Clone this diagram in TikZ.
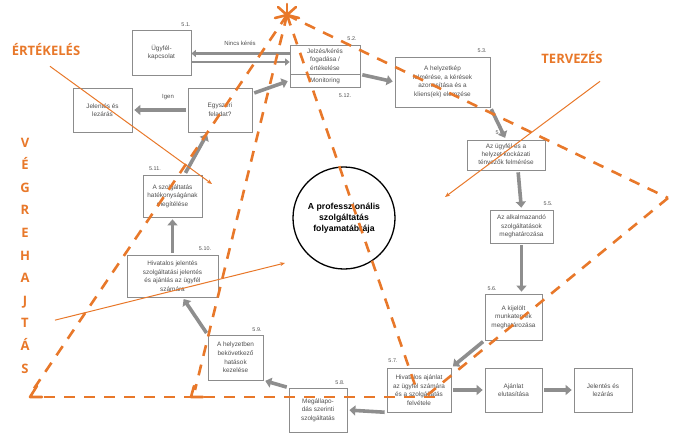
\documentclass[tikz,border=0pt]{standalone}
\usepackage{fontspec}
\setmainfont{Liberation Sans}
\newfontfamily\labfont{Open Sans}
\usetikzlibrary{arrows.meta,calc}
\definecolor{org}{HTML}{E8782A}
\definecolor{boxg}{HTML}{8C8C8C}
\definecolor{txtg}{HTML}{505050}
\definecolor{arrg}{HTML}{8E8E8E}
\begin{document}
\begin{tikzpicture}[x=1pt,y=-1pt,
 box/.style={draw=boxg,line width=0.7pt,fill=white,text=txtg,align=center,inner sep=1pt,font=\fontsize{6.4}{8.6}\selectfont},
 num/.style={font=\fontsize{5.4}{6}\selectfont,text=txtg,inner sep=0pt},
 garrow/.style={draw=arrg,line width=3.6pt,-{Triangle[length=6pt,width=10pt]},shorten <=2pt,shorten >=2pt},
 dline/.style={draw=arrg,line width=2.4pt,-{Triangle[length=4.5pt,width=7pt]}},
 odash/.style={draw=org,line width=2.6pt,dash pattern=on 11pt off 9pt},
 ocorner/.style={draw=org,line width=2.6pt,line cap=round,line join=round},
 opoint/.style={draw=org,line width=1pt,-{Stealth[length=5pt,width=4pt]}},
 olab/.style={text=org,font=\labfont\bfseries\fontsize{13}{13}\selectfont,inner sep=0pt}
]
\useasboundingbox (0,0) rectangle (686,434);

% boxes
\node[box,minimum width=59pt,minimum height=45pt] (b51) at (161.5,52.5) {Ügyfél-\\kapcsolat};
\node[box,minimum width=70pt,minimum height=29pt] (b52t) at (325,59.5) {Jelzés/kérés\\fogadása /\\értékelése};
\node[box,minimum width=70pt,minimum height=13pt] (b52b) at (325,80.5) {Monitoring};
\node[box,minimum width=95pt,minimum height=50pt] (b53) at (442.5,82) {A helyzetkép\\felmérése, a kérések\\azonosítása és a\\kliens(ek) elemzése};
\node[box,minimum width=78pt,minimum height=30pt,font=\fontsize{6.4}{8}\selectfont] (b54) at (506,155) {Az ügyfél és a\\helyzet kockázati\\tényezők felmérése};
\node[box,minimum width=63pt,minimum height=33pt] (b55) at (521.5,226.5) {Az alkalmazandó\\szolgáltatások\\meghatározása};
\node[box,minimum width=57pt,minimum height=46pt] (b56) at (513.5,317) {A kijelölt\\munkatervek\\meghatározása};
\node[box,minimum width=64pt,minimum height=44pt] (b57) at (419,390) {Hivatalos ajánlat\\az ügyfél számára\\és a szolgáltatás\\felvétele};
\node[box,minimum width=57pt,minimum height=44pt] (bajan) at (513.5,390) {Ajánlat\\elutasítása};
\node[box,minimum width=58pt,minimum height=44pt] (bjel2) at (603,390) {Jelentés és\\lezárás};
\node[box,minimum width=58pt,minimum height=44pt] (b58) at (318,410) {Megállapo-\\dás szerinti\\szolgáltatás};
\node[box,minimum width=55pt,minimum height=45pt] (b59) at (235.5,357.5) {A helyzetben\\bekövetkező\\hatások\\kezelése};
\node[box,minimum width=91pt,minimum height=42pt] (b510) at (172.5,276) {Hivatalos jelentés\\szolgáltatási jelentés\\és ajánlás az ügyfél\\számára};
\node[box,minimum width=59pt,minimum height=42pt] (b511) at (172.5,196) {A szolgáltatás\\hatékonyságának\\megítélése};
\node[box,minimum width=64pt,minimum height=44pt] (begy) at (220,110) {Egyszeri\\feladat?};
\node[box,minimum width=59pt,minimum height=44pt] (bjel1) at (102.5,110) {Jelentés és\\lezárás};

\node[circle,draw=black,line width=1.3pt,minimum size=102pt,align=center,inner sep=0pt,font=\bfseries\fontsize{8.7}{11}\selectfont] (c) at (344,218) {A professzionális\\szolgáltatás\\folyamatábrája};

% numbers
\node[num] (n51) at (186,25) {5.1.};
\node[num] (n52) at (352,39) {5.2.};
\node[num] (n512) at (345,96) {5.12.};
\node[num] (n53) at (482,51) {5.3.};
\node[num] (n54) at (500,133) {5.4.};
\node[num] (n55) at (548,204) {5.5.};
\node[num] (n56) at (492,289) {5.6.};
\node[num] (n57) at (393,361) {5.7.};
\node[num] (n58) at (340,383) {5.8.};
\node[num] (n59) at (257,330) {5.9.};
\node[num] (n510) at (205,249) {5.10.};
\node[num] (n511) at (155,169) {5.11.};

% grey arrows
\draw[dline] ([yshift=6pt]b52t.west) -- ([yshift=6pt]b52t.west -| b51.east);
\draw[dline] ([yshift=-2.5pt]b52t.west -| b51.east) -- ([yshift=-2.5pt]b52t.west);
\node[num,font=\fontsize{6}{7}\selectfont] (lnincs) at (240,43) {Nincs kérés};
\draw[garrow] (b52t.south east) -- (b53.west);
\draw[garrow] (b53.south east) -- (b54.north);
\draw[garrow] ([xshift=12pt]b54.south) -- (b55.north);
\draw[garrow] (b55.south) -- ([xshift=8pt]b56.north);
\draw[garrow] (b56.south west) -- (b57.north east);
\draw[garrow] (b57.east) -- (bajan.west);
\draw[garrow] (bajan.east) -- (bjel2.west);
\draw[garrow] (b57.south west) -- (b58.east);
\draw[garrow] (b58.north west) -- (b59.south east);
\draw[garrow] (b59.north west) -- ([xshift=10pt]b510.south);
\draw[garrow] (b510.north) -- (b511.south);
\draw[garrow] ([xshift=12pt]b511.north) -- ([xshift=-12pt]begy.south);
\draw[garrow] (begy.west) -- (bjel1.east);
\node[num,font=\fontsize{6}{7}\selectfont] (ligen) at (168,97) {Igen};
\draw[garrow] ([yshift=-6pt]begy.north east) -- (b52b.west);

% orange dashed figure
\coordinate (apex) at (287,15);
\coordinate (bl) at (33,390);
\coordinate (bm) at (195,390);
\coordinate (mid) at (415,385);
\coordinate (rv) at (668,198);
\coordinate (lr) at (425,397);
\coordinate (bs) at (44,397);
\coordinate (be) at (440,397);
\draw[odash] (apex) -- (bl);
\draw[odash] (apex) -- (bm);
\draw[odash] (apex) -- (mid);
\draw[odash] (apex) -- (rv);
\draw[odash] (rv) -- (lr);
\draw[odash] (bs) -- (be);
\draw[ocorner] (37,386) -- (30,397) -- (42,397);
\draw[ocorner] (194,386) -- (191,397) -- (203,397);
\draw[ocorner] (apex) -- ++(-9,-8);
\draw[ocorner] (apex) -- ++(9,-8);
\draw[ocorner] (apex) -- ++(0,-11);
\draw[ocorner] (apex) -- ++(-12,3);
\draw[ocorner] (apex) -- ++(12,3);

% orange labels
\node[olab] (lev) at (46,50) {ÉRTÉKELÉS};
\node[olab] (lterv) at (572,58) {TERVEZÉS};
\foreach \l [count=\i] in {V,É,G,R,E,H,A,J,T,Á,S}
  \node[olab,anchor=base] (v\i) at (25,{147+(\i-1)*22.6}) {\l};
\coordinate (e1) at (212,184);
\coordinate (t1) at (445,197);
\coordinate (g1) at (285,263);
\draw[opoint] ([xshift=4pt,yshift=-10pt]lev.south) -- (e1);
\draw[opoint] ([xshift=28pt,yshift=-17pt]lterv.south) -- (t1);
\draw[opoint] ([xshift=26pt,yshift=3pt]v9.east) -- (g1);
\end{tikzpicture}
\end{document}
